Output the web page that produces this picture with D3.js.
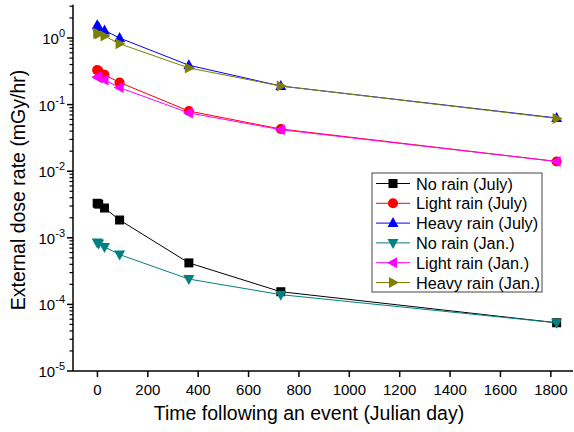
<!DOCTYPE html>
<html>
<head>
<meta charset="utf-8">
<script src="https://cdn.jsdelivr.net/npm/d3@7"></script>
<style>
body { margin: 0; background: #fff; }
text { font-family: "Liberation Sans", Arial, sans-serif; }
</style>
</head>
<body>
<script>
const w = 574, h = 432;

// time after the event (Julian day)
const days = [1, 7, 30, 90, 365, 730, 1825];

const noRainJuly = [3.3e-3, 3.2e-3, 2.8e-3, 1.85e-3, 4.2e-4, 1.55e-4, 5.3e-5];
const lightRainJuly = [0.33, 0.32, 0.28, 0.215, 0.08, 0.043, 0.014];
const heavyRainJuly = [1.55, 1.45, 1.3, 1.0, 0.39, 0.19, 0.063];
const noRainJan = [8.5e-4, 8.2e-4, 7.3e-4, 5.6e-4, 2.4e-4, 1.4e-4, 5.3e-5];
const lightRainJan = [0.26, 0.25, 0.235, 0.18, 0.075, 0.042, 0.014];
const heavyRainJan = [1.18, 1.15, 1.07, 0.82, 0.355, 0.19, 0.062];

const xTicks = [0, 200, 400, 600, 800, 1000, 1200, 1400, 1600, 1800];
const yDecades = [-5, -4, -3, -2, -1, 0];

const series = [
    {name: "No rain (July)", values: noRainJuly, color: "#000000", symbol: "square"},
    {name: "Light rain (July)", values: lightRainJuly, color: "#ff0000", symbol: "circle"},
    {name: "Heavy rain (July)", values: heavyRainJuly, color: "#0000ff", symbol: "up"},
    {name: "No rain (Jan.)", values: noRainJan, color: "#008080", symbol: "down"},
    {name: "Light rain (Jan.)", values: lightRainJan, color: "#ff00ff", symbol: "left"},
    {name: "Heavy rain (Jan.)", values: heavyRainJan, color: "#808000", symbol: "right"}
]

let svg = d3.select("body").append("svg")
    .attr("width", w)
    .attr("height", h)

let x = d3.scaleLinear().domain([-95, 1890]).range([73, 573])
let y = d3.scaleLog().domain([1e-5, Math.pow(10, 0.5)]).range([371, 4.7])

function symbolPath(s) {
    // small hand-made marker shapes
    if (s === "square") return "M-4.5,-4.5H4.5V4.5H-4.5Z"
    if (s === "circle") return d3.symbol(d3.symbolCircle, 80)()
    if (s === "up") return "M0,-6L5.5,4L-5.5,4Z"
    if (s === "down") return "M0,6L5.5,-4L-5.5,-4Z"
    if (s === "left") return "M-6,0L4,-5.5L4,5.5Z"
    if (s === "right") return "M6,0L-4,-5.5L-4,5.5Z"
}

// x axis
let xAxis = svg.append("g")
    .attr("transform", "translate(0," + y(1e-5) + ")")
    .call(d3.axisBottom(x).tickValues(xTicks).tickFormat(d3.format("d")).tickSize(6).tickPadding(7))
xAxis.select(".domain").attr("d", "M" + x.range()[0] + ",0H" + x.range()[1]).attr("stroke-width", 1.5)
xAxis.selectAll(".tick line").attr("stroke-width", 1.5)
xAxis.selectAll("text").attr("font-size", 15).attr("fill", "#000")

// y axis (log, decades + minor ticks)
let minor = []
yDecades.forEach((d)=>{
    for (let m = 2; m <= 9; m++) {
        let v = m * Math.pow(10, d)
        if (v <= y.domain()[1]) minor.push(v)
    }
})
let yg = svg.append("g").attr("transform", "translate(" + x.range()[0] + ",0)")
yg.append("line")
    .attr("x1", 0).attr("x2", 0)
    .attr("y1", y.range()[0]).attr("y2", y.range()[1])
    .attr("stroke", "#000").attr("stroke-width", 1.5)
yg.selectAll(".minor").data(minor).enter().append("line")
    .attr("x1", -3.5).attr("x2", 0)
    .attr("y1", (d)=>y(d)).attr("y2", (d)=>y(d))
    .attr("stroke", "#000").attr("stroke-width", 1.2)
yg.selectAll(".major").data(yDecades).enter().append("line")
    .attr("x1", -6).attr("x2", 0)
    .attr("y1", (d)=>y(Math.pow(10, d))).attr("y2", (d)=>y(Math.pow(10, d)))
    .attr("stroke", "#000").attr("stroke-width", 1.5)
let yl = yg.selectAll(".lab").data(yDecades).enter().append("text")
    .attr("x", -8)
    .attr("y", (d)=>y(Math.pow(10, d)) + 6)
    .attr("text-anchor", "end")
    .attr("font-size", 15)
yl.append("tspan").text("10")
yl.append("tspan").attr("dy", -7).attr("font-size", 11).text((d)=>d)

// lines and markers
let line = d3.line()
    .x((d, i)=>x(days[i]))
    .y((d)=>y(d))

series.forEach((s)=>{
    svg.append("path")
        .attr("d", line(s.values))
        .attr("fill", "none")
        .attr("stroke", s.color)
        .attr("stroke-width", 1)
    svg.append("g").selectAll("path").data(s.values).enter().append("path")
        .attr("d", symbolPath(s.symbol))
        .attr("transform", (d, i)=>"translate(" + x(days[i]) + "," + y(d) + ")")
        .attr("fill", s.color)
})

// legend
let lg = svg.append("g").attr("transform", "translate(372,173)")
lg.append("rect")
    .attr("width", 170).attr("height", 119)
    .attr("fill", "#fff").attr("stroke", "#444").attr("stroke-width", 1)
let item = lg.selectAll(".item").data(series).enter().append("g")
    .attr("transform", (d, i)=>"translate(0," + (10.5 + i * 19.8) + ")")
item.append("line")
    .attr("x1", 4).attr("x2", 38)
    .attr("stroke", (d)=>d.color).attr("stroke-width", 1)
item.append("path")
    .attr("d", (d)=>symbolPath(d.symbol))
    .attr("transform", "translate(21,0)")
    .attr("fill", (d)=>d.color)
item.append("text")
    .attr("x", 44).attr("y", 6)
    .attr("font-size", 16.3)
    .text((d)=>d.name)

// axis titles
svg.append("text")
    .attr("x", 309).attr("y", 420)
    .attr("text-anchor", "middle")
    .attr("font-size", 19.5)
    .text("Time following an event (Julian day)")
svg.append("text")
    .attr("transform", "translate(25,190) rotate(-90)")
    .attr("text-anchor", "middle")
    .attr("font-size", 19.5)
    .text("External dose rate (mGy/hr)")
</script>
</body>
</html>
